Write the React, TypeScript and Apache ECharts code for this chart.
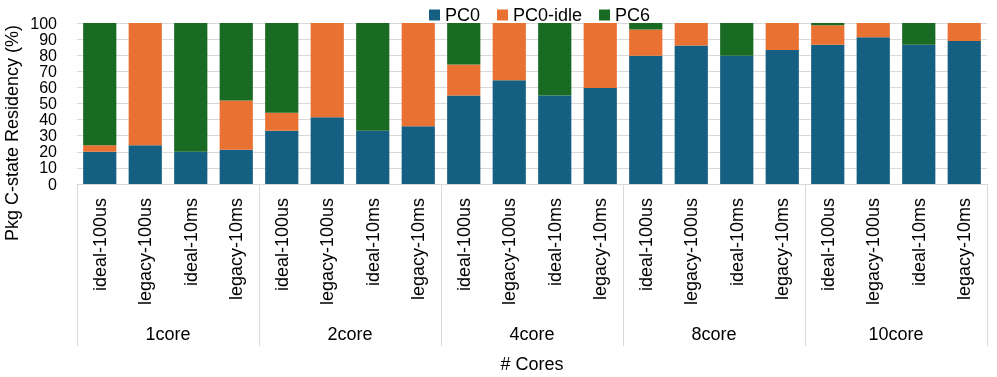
import React, { useEffect, useRef } from "react";
import * as echarts from "echarts";

const groups = ["1core", "2core", "4core", "8core", "10core"];
const configs = ["ideal-100us", "legacy-100us", "ideal-10ms", "legacy-10ms"];
const categories = groups.flatMap((g) => configs.map((c) => `${g}|${c}`));

const pc0 = [20, 24, 20, 21.3, 33.1, 41.4, 33.1, 35.8, 54.9, 64.4, 54.9, 59.6, 79.7, 86.1, 79.7, 83.2, 86.5, 91.1, 86.5, 88.8];
const pc0Idle = [4, 76, 0, 30.5, 11.2, 58.6, 0, 64.2, 19.4, 35.6, 0, 40.4, 16.2, 13.9, 0, 16.8, 12.1, 8.9, 0, 11.2];
const pc6 = [76, 0, 80, 48.2, 55.7, 0, 66.9, 0, 25.7, 0, 45.1, 0, 4.1, 0, 20.3, 0, 1.4, 0, 13.5, 0];

const yTicks = { min: 0, max: 100, interval: 10 };

const FONT = "'Liberation Sans', Arial, sans-serif";
const TEXT = "#000000";
const GRID = "#d9d9d9";

export default function App() {
  const ref = useRef<HTMLDivElement>(null);
  useEffect(() => {
    if (!ref.current) return;
    const chart = echarts.init(ref.current, null, { renderer: "svg" });
    const mk = (name: string, data: number[], color: string) => ({
      name,
      type: "bar",
      stack: "total",
      data,
      barCategoryGap: "27%",
      itemStyle: { color },
      xAxisIndex: 0,
    });
    chart.setOption({
      animation: false,
      textStyle: { fontFamily: FONT },
      legend: {
        top: 1,
        left: 424,
        itemWidth: 11,
        itemHeight: 11,
        itemGap: 17,
        icon: "rect",
        textStyle: { fontSize: 18, color: TEXT, fontFamily: FONT },
        data: ["PC0", "PC0-idle", "PC6"],
      },
      grid: { left: 77, right: 10, top: 23, bottom: 193, containLabel: false },
      graphic: [
        {
          type: "text",
          x: 12,
          y: 133,
          rotation: Math.PI / 2,
          style: {
            text: "Pkg C-state Residency (%)",
            fontSize: 18,
            fontFamily: FONT,
            fill: TEXT,
            align: "center",
            verticalAlign: "middle",
          },
        },
      ],
      xAxis: [
        {
          type: "category",
          data: categories,
          position: "bottom",
          axisLine: { show: true, lineStyle: { color: GRID, width: 1 } },
          axisTick: {
            show: true,
            interval: (i: number) => i % 4 === 0,
            length: 162,
            lineStyle: { color: GRID, width: 1 },
          },
          axisLabel: {
            interval: 0,
            rotate: 90,
            margin: 14,
            fontSize: 18,
            color: TEXT,
            fontFamily: FONT,
            formatter: (v: string) => v.split("|")[1],
          },
        },
        {
          type: "category",
          data: groups,
          position: "bottom",
          offset: 141,
          axisLine: { show: false },
          axisTick: { show: false },
          axisLabel: { margin: 0, fontSize: 18, color: TEXT, fontFamily: FONT },
          name: "# Cores",
          nameLocation: "middle",
          nameGap: 30,
          nameTextStyle: { fontSize: 18, color: TEXT, fontFamily: FONT },
        },
      ],
      yAxis: {
        type: "value",
        min: yTicks.min,
        max: yTicks.max,
        interval: yTicks.interval,
        axisLine: { show: false },
        axisTick: { show: false },
        splitLine: { lineStyle: { color: GRID, width: 1 } },
        axisLabel: {
          fontSize: 16,
          lineHeight: 16,
          color: TEXT,
          fontFamily: FONT,
          margin: 20,
          showMinLabel: true,
          showMaxLabel: true,
          hideOverlap: false,
        },
      },
      series: [
        mk("PC0", pc0, "#156082"),
        mk("PC0-idle", pc0Idle, "#E97132"),
        mk("PC6", pc6, "#196B24"),
      ],
    });
    return () => chart.dispose();
  }, []);
  return (
    <div
      ref={ref}
      style={{ position: "fixed", left: 0, top: 0, width: 997, height: 377 }}
    />
  );
}
